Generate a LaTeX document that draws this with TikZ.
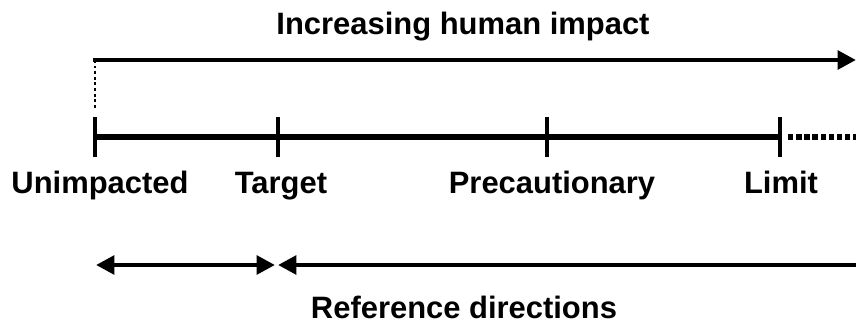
\documentclass[tikz,border=0pt]{standalone}
\usepackage{fontspec}
\setmainfont{Liberation Sans}
\usetikzlibrary{arrows.meta}

\tikzset{
  lbl/.style={font=\bfseries\fontsize{22}{24}\selectfont, inner sep=0pt, anchor=base},
  axis/.style={line width=3.8pt},
  tickmark/.style={line width=3.4pt},
  dir/.style={line width=3.2pt, -{Triangle[length=13pt,width=13pt]}},
}

\begin{document}
\begin{tikzpicture}[x=0.025cm, y=-0.025cm]
		\useasboundingbox (0,0) rectangle (856,329);

		% scale points
		\coordinate (u) at (95,137);
		\coordinate (t) at (278,137);
		\coordinate (p) at (547,137);
		\coordinate (l) at (780,137);
		\coordinate (e) at (856,137);

		\draw[axis] (u) -- (l);
		\foreach \c in {u,t,p,l}
		  \draw[tickmark] ([yshift=0.5cm]\c) -- ([yshift=-0.5cm]\c);
		\draw[axis, dotted] ([xshift=0.2cm]l) -- (e);

		\node[lbl] (nu) at (100,193) {Unimpacted};
		\node[lbl] (nt) at (281,193) {Target};
		\node[lbl] (np) at (552,193) {Precautionary};
		\node[lbl] (nl) at (781,193) {Limit};

		% human impact
		\node[lbl] (top) at (463,34) {Increasing human impact};
		\coordinate (a0) at (95,60);
		\coordinate (a1) at (856,60);
		\draw[dir, line cap=rect] (a0) -- (a1);
		\draw[line width=2pt, dotted] (a0) -- ([yshift=-1.2cm]a0);

		% reference directions
		\coordinate (r0) at (96,265);
		\coordinate (r1) at (275,265);
		\coordinate (r2) at (278,265);
		\coordinate (r3) at (856,265);
		\draw[dir, {Triangle[length=13pt,width=13pt]}-{Triangle[length=13pt,width=13pt]}] (r0) -- (r1);
		\draw[dir, {Triangle[length=13pt,width=13pt]}-] (r2) -- (r3);
		\node[lbl] (bot) at (464,318) {Reference directions};
\end{tikzpicture}
\end{document}
